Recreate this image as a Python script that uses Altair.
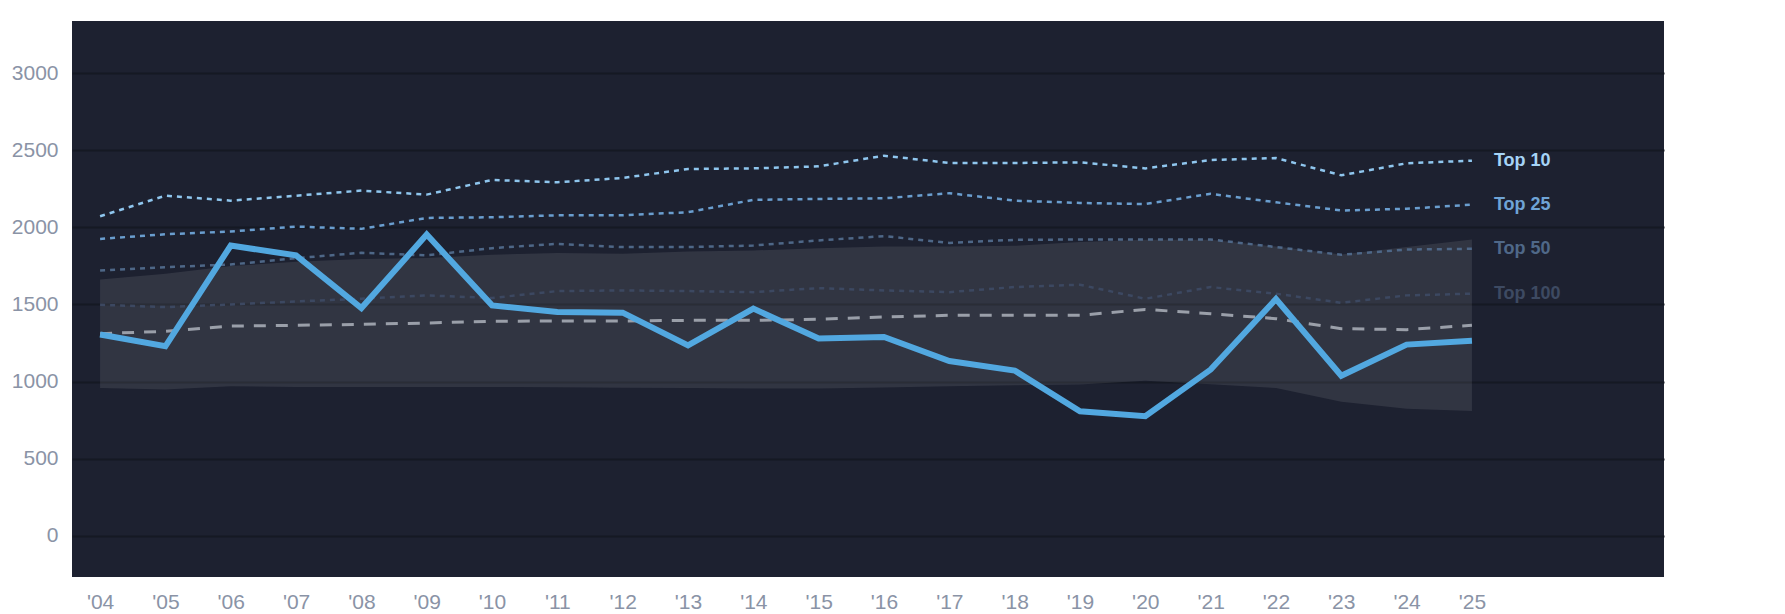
import json
import altair as alt
import pandas as pd

years = list(range(2004, 2026))
year_labels = ["'04", "'05", "'06", "'07", "'08", "'09", "'10", "'11", "'12", "'13", "'14",
               "'15", "'16", "'17", "'18", "'19", "'20", "'21", "'22", "'23", "'24", "'25"]
y_ticks = [0, 500, 1000, 1500, 2000, 2500, 3000]

main = [1305, 1229, 1882, 1818, 1477, 1953, 1494, 1451, 1447, 1235, 1473,
        1279, 1289, 1134, 1072, 808, 776, 1078, 1535, 1038, 1240, 1265]
top10 = [2072, 2205, 2173, 2205, 2238, 2212, 2307, 2292, 2320, 2378, 2382,
         2395, 2464, 2417, 2417, 2421, 2382, 2436, 2449, 2337, 2415, 2432]
top25 = [1925, 1955, 1973, 2005, 1990, 2061, 2065, 2078, 2078, 2098, 2178,
         2184, 2188, 2221, 2173, 2158, 2151, 2217, 2162, 2109, 2120, 2147]
top50 = [1720, 1742, 1759, 1800, 1835, 1818, 1865, 1893, 1872, 1872, 1882,
         1915, 1943, 1899, 1919, 1921, 1921, 1921, 1872, 1822, 1856, 1861]
top100 = [1498, 1483, 1500, 1520, 1537, 1559, 1542, 1587, 1591, 1587, 1580,
          1606, 1591, 1580, 1613, 1628, 1537, 1613, 1570, 1511, 1559, 1570]
median = [1311, 1326, 1360, 1365, 1371, 1380, 1391, 1393, 1393, 1397, 1397,
          1404, 1419, 1430, 1430, 1430, 1468, 1440, 1408, 1343, 1337, 1365]
band_hi = [1662, 1699, 1749, 1777, 1794, 1802, 1822, 1833, 1829, 1843, 1850,
           1865, 1876, 1876, 1880, 1905, 1920, 1920, 1875, 1824, 1872, 1921]
band_lo = [959, 949, 970, 966, 966, 966, 966, 963, 960, 958, 955,
           955, 962, 970, 977, 981, 1005, 983, 959, 869, 824, 810]

series_names = ["Top 10", "Top 25", "Top 50", "Top 100"]
series_values = [top10, top25, top50, top100]

line_colors = ["#8fc6ee", "#6a9ecf", "#4e6787", "#3c4861"]
label_colors = ["#a6d4f6", "#6fa4d6", "#4f6888", "#3d4a62"]
axis_color = "#8a93a6"
font = "Liberation Sans"

x_scale = alt.Scale(domain=[2003.57, 2027.94], nice=False, zero=False)
y_scale = alt.Scale(domain=[-266, 3337], nice=False, zero=False)

x_axis = alt.Axis(values=years, labelExpr=f"{json.dumps(year_labels)}[datum.value - 2004]",
                  grid=False, ticks=False, domain=False, labelFontSize=21,
                  labelColor=axis_color, labelPadding=14, labelFont=font, title=None)
y_axis = alt.Axis(values=y_ticks, format="d", grid=True, gridColor="#151923", gridWidth=2,
                  ticks=False, domain=False, labelFontSize=21, labelColor=axis_color,
                  labelPadding=14, labelFont=font, title=None)

band_df = pd.DataFrame({"year": years, "lo": band_lo, "hi": band_hi})
band = alt.Chart(band_df).mark_area(color="#ffffff", opacity=0.09).encode(
    x=alt.X("year:Q", scale=x_scale, axis=x_axis),
    y=alt.Y("lo:Q", scale=y_scale, axis=y_axis),
    y2="hi:Q",
)

layers = [band]

med_df = pd.DataFrame({"year": years, "value": median})
layers.append(alt.Chart(med_df).mark_line(color="#9a9fa9", strokeWidth=3,
                                          strokeDash=[12, 10]).encode(
    x=alt.X("year:Q", scale=x_scale), y=alt.Y("value:Q", scale=y_scale)))

for name, vals, col in reversed(list(zip(series_names, series_values, line_colors))):
    d = pd.DataFrame({"year": years, "value": vals})
    layers.append(alt.Chart(d).mark_line(color=col, strokeWidth=2.5,
                                         strokeDash=[5, 5]).encode(
        x=alt.X("year:Q", scale=x_scale), y=alt.Y("value:Q", scale=y_scale)))

main_df = pd.DataFrame({"year": years, "value": main})
layers.append(alt.Chart(main_df).mark_line(color="#52a8e0", strokeWidth=6,
                                           strokeJoin="miter").encode(
    x=alt.X("year:Q", scale=x_scale), y=alt.Y("value:Q", scale=y_scale)))

lab_df = pd.DataFrame({"series": series_names,
                       "year": [years[-1]] * len(series_names),
                       "value": [v[-1] for v in series_values]})
layers.append(alt.Chart(lab_df).mark_text(align="left", baseline="middle", dx=22,
                                          fontSize=18, fontWeight="bold", font=font).encode(
    x=alt.X("year:Q", scale=x_scale), y=alt.Y("value:Q", scale=y_scale),
    text="series:N",
    color=alt.Color("series:N", scale=alt.Scale(domain=series_names, range=label_colors),
                    legend=None)))

chart = alt.layer(*layers).properties(
    width=1592, height=556,
    padding={"left": 3, "top": 13, "right": 5, "bottom": 5},
).configure_view(fill="#1d2130", strokeWidth=0)

chart.save("out.html", embed_options={"renderer": "svg", "actions": False})
